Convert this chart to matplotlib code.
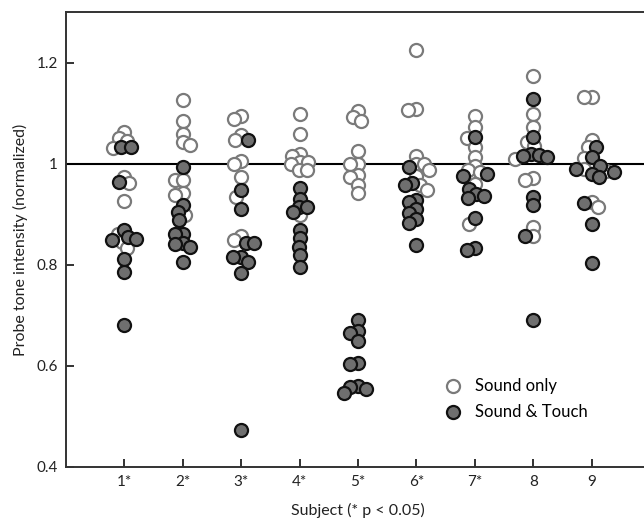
import numpy as np
import matplotlib
matplotlib.use("Agg")
import matplotlib.pyplot as plt

plt.rcParams['font.family'] = ['Lato', 'DejaVu Sans']

subjects = ["1*", "2*", "3*", "4*", "5*", "6*", "7*", "8", "9"]

sound_only = [
    [1.062, 1.050, 1.045, 1.030, 0.974, 0.961, 0.926, 0.860, 0.845, 0.833],
    [1.125, 1.085, 1.059, 1.043, 1.036, 0.967, 0.967, 0.941, 0.938, 0.898],
    [1.094, 1.088, 1.056, 1.046, 1.006, 1.000, 0.974, 0.934, 0.856, 0.849],
    [1.098, 1.059, 1.020, 1.016, 1.003, 1.003, 1.000, 0.987, 0.987, 0.898],
    [1.105, 1.092, 1.085, 1.026, 1.000, 1.000, 0.978, 0.974, 0.957, 0.941],
    [1.224, 1.108, 1.107, 1.016, 1.000, 1.000, 0.987, 0.975, 0.957, 0.947],
    [1.095, 1.072, 1.051, 1.033, 1.014, 0.996, 0.987, 0.983, 0.960, 0.881],
    [1.174, 1.098, 1.072, 1.043, 1.035, 1.010, 0.971, 0.967, 0.875, 0.856],
    [1.131, 1.131, 1.047, 1.033, 1.012, 0.997, 0.990, 0.985, 0.924, 0.915],
]

sound_touch = [
    [1.033, 1.032, 0.963, 0.869, 0.855, 0.850, 0.849, 0.811, 0.785, 0.680],
    [0.994, 0.918, 0.905, 0.888, 0.861, 0.861, 0.844, 0.841, 0.836, 0.806],
    [1.046, 0.947, 0.911, 0.843, 0.843, 0.816, 0.816, 0.806, 0.783, 0.474],
    [0.951, 0.931, 0.915, 0.915, 0.905, 0.869, 0.852, 0.836, 0.819, 0.796],
    [0.691, 0.669, 0.665, 0.649, 0.606, 0.603, 0.560, 0.558, 0.554, 0.547],
    [0.993, 0.961, 0.957, 0.929, 0.924, 0.910, 0.902, 0.890, 0.883, 0.839],
    [1.052, 0.979, 0.975, 0.949, 0.940, 0.937, 0.933, 0.892, 0.834, 0.829],
    [1.128, 1.052, 1.020, 1.017, 1.015, 1.014, 0.934, 0.918, 0.856, 0.690],
    [1.033, 1.014, 0.996, 0.990, 0.983, 0.980, 0.974, 0.922, 0.881, 0.803],
]

fig = plt.figure(figsize=(6.44, 5.21), dpi=100)
ax = fig.add_axes([66/644, 54/521, 584/644, 455/521])
ax.set_xlim(0, 10)
ax.set_ylim(0.4, 1.3)

MS = 9.4            # marker diameter in points
DIAM_PX = MS * fig.dpi / 72.0
MIN_DIST = 0.62 * DIAM_PX


def swarm_offsets(ypix, min_dist):
    """Greedy beeswarm: returns x offsets (pixels) for given y pixels."""
    order = np.argsort(-np.asarray(ypix))
    placed = []
    offs = np.zeros(len(ypix))
    for i in order:
        y = ypix[i]
        cands = [0.0]
        for (xj, yj) in placed:
            dy = abs(y - yj)
            if dy < min_dist:
                dx = np.sqrt(min_dist**2 - dy**2)
                cands += [xj + dx, xj - dx]
        cands = sorted(cands, key=lambda c: (abs(c), c))
        for c in cands:
            ok = True
            for (xj, yj) in placed:
                if (c - xj)**2 + (y - yj)**2 < min_dist**2 - 1e-6:
                    ok = False
                    break
            if ok:
                offs[i] = c
                placed.append((c, y))
                break
    return offs


fig.canvas.draw()
to_pix = ax.transData
px_per_x = (to_pix.transform((1, 0))[0] - to_pix.transform((0, 0))[0])

for k, name in enumerate(subjects):
    xc = k + 1
    vals = list(sound_only[k]) + list(sound_touch[k])
    grp = [0] * len(sound_only[k]) + [1] * len(sound_touch[k])
    ypix = np.array([to_pix.transform((xc, v))[1] for v in vals])
    offs = swarm_offsets(ypix, MIN_DIST) / px_per_x
    xs = xc + offs
    vals = np.array(vals)
    grp = np.array(grp)
    ax.scatter(xs[grp == 0], vals[grp == 0], s=MS**2, facecolor='white',
               edgecolor='#7a7a7a', linewidth=1.6, zorder=3)
    ax.scatter(xs[grp == 1], vals[grp == 1], s=MS**2, facecolor='#6f6f6f',
               edgecolor='#111111', linewidth=1.6, zorder=4)

ax.axhline(1.0, color='black', lw=1.5, zorder=2)

ax.set_xticks(range(1, len(subjects) + 1))
ax.set_xticklabels(subjects)
ax.set_yticks([0.4, 0.6, 0.8, 1.0, 1.2])
ax.set_yticklabels(["0.4", "0.6", "0.8", "1", "1.2"])
ax.tick_params(direction='in', length=6, width=1.3, labelsize=11, colors='#222222', pad=6)

for s in ['left', 'bottom', 'top', 'right']:
    ax.spines[s].set_linewidth(1.4)
    ax.spines[s].set_color('#333333')

ax.set_xlabel("Subject (* p < 0.05)", fontsize=11.5, labelpad=10, color='#222222')
ax.set_ylabel("Probe tone intensity (normalized)", fontsize=11.5, labelpad=6, color='#222222')

h1 = ax.scatter([], [], s=MS**2, facecolor='white', edgecolor='#7a7a7a', linewidth=1.6)
h2 = ax.scatter([], [], s=MS**2, facecolor='#6f6f6f', edgecolor='#111111', linewidth=1.6)
ax.legend([h1, h2], ["Sound only", "Sound & Touch"], loc='upper left',
          bbox_to_anchor=(0.62, 0.215), frameon=False, fontsize=12,
          handletextpad=0.3, borderpad=0, labelspacing=0.6, scatterpoints=1)

fig.savefig("out.png", dpi=100)
